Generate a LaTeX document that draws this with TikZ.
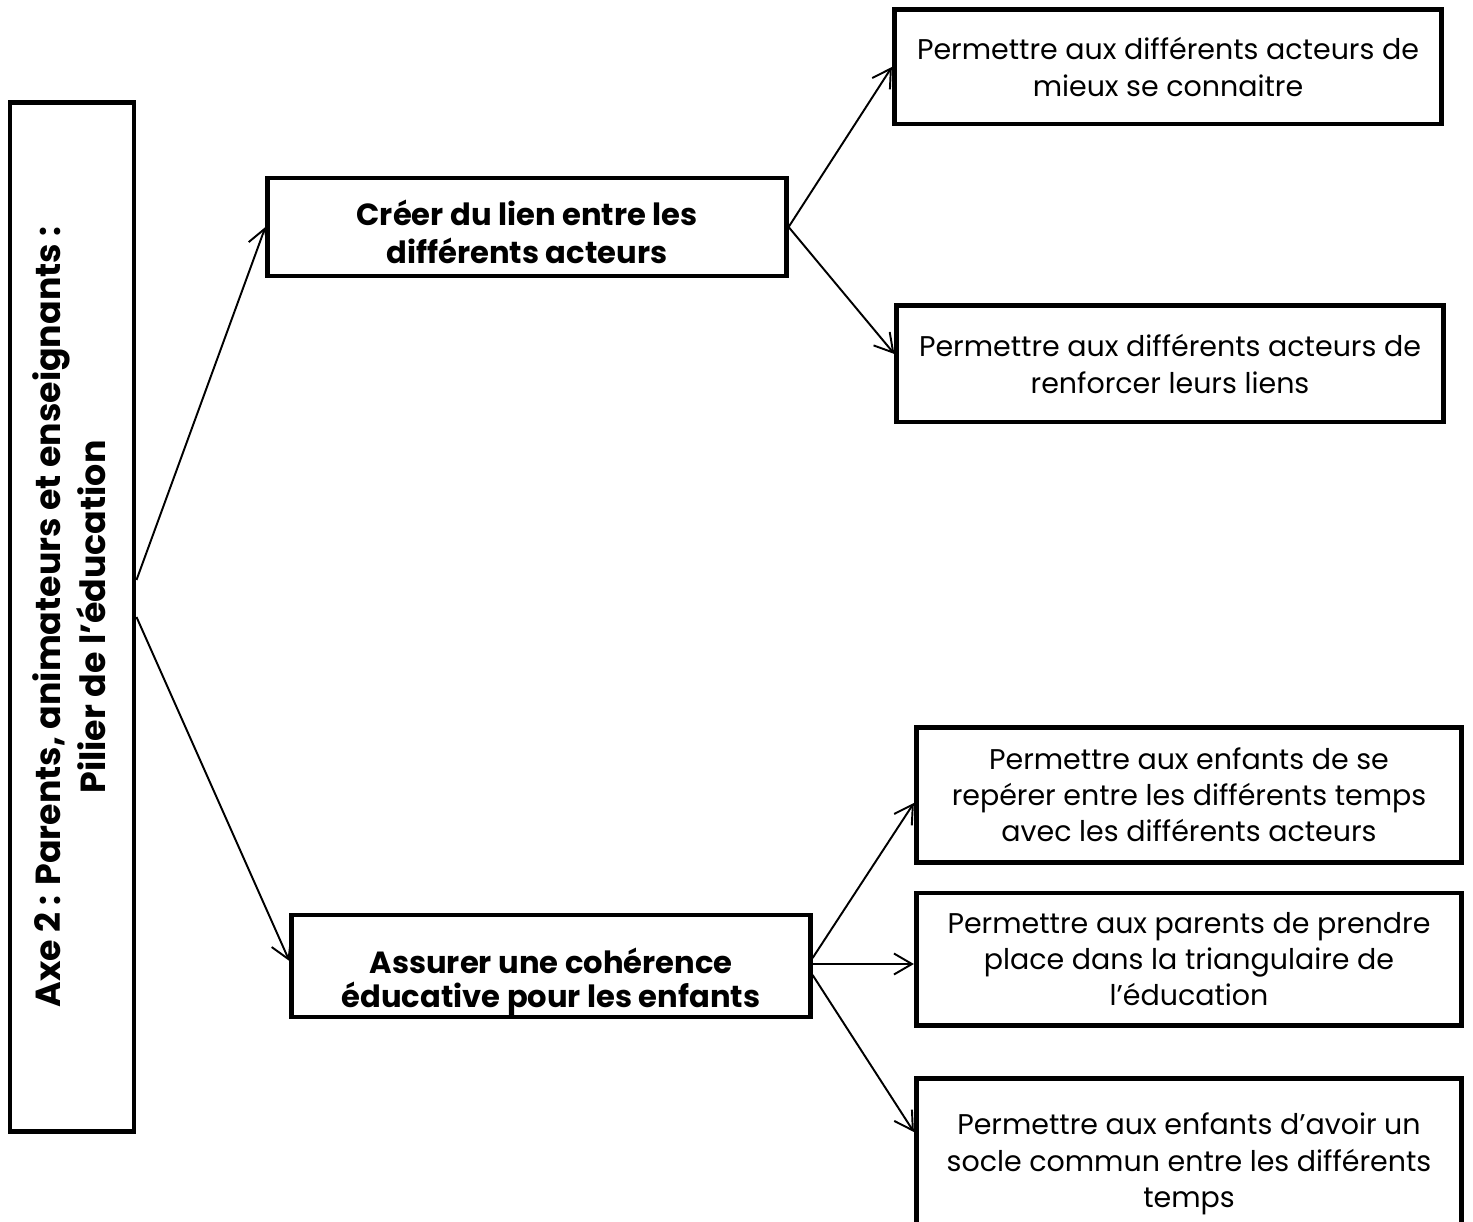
\documentclass[tikz,border=0pt]{standalone}
\usepackage{fontspec}
\setmainfont{Poppins}
\usetikzlibrary{arrows.meta}

\begin{document}
\begin{tikzpicture}[
    x=0.01cm, y=-0.01cm,
    box/.style={draw, line width=1.4pt, align=center, inner sep=0pt, font=\fontsize{8.1}{10.3}\selectfont},
    boldbox/.style={box, font=\fontsize{8.7}{10.6}\selectfont\bfseries},
    link/.style={-{Straight Barb[length=1.8mm,width=2.1mm]}, line width=0.55pt}
  ]
    \useasboundingbox (0,0) rectangle (1473,1222);

    % axe
    \node[box, minimum width=12.4mm, minimum height=102.9mm] (axe) at (72,617) {};
    \node[rotate=90, align=center, font=\fontsize{9.9}{12.8}\selectfont\bfseries] (axetxt) at ([xshift=-0.3mm]axe.center)
      {Axe 2 : Parents, animateurs et enseignants :\\ Pilier de l’éducation};

    % objectifs
    \node[box, minimum width=51.8mm, minimum height=9.8mm] (creer) at (527,227) {};
    \node[boldbox, draw=none] (creertxt) at ([yshift=-0.5mm]creer.center)
      {Créer du lien entre les\\ différents acteurs};
    \node[box, minimum width=51.8mm, minimum height=10.2mm] (assurer) at (551,966) {};
    \begin{scope}
      \clip (assurer.south west) rectangle (assurer.north east);
      \node[boldbox, draw=none, font=\fontsize{8.7}{9.8}\selectfont\bfseries] (assurertxt)
        at ([yshift=-1.6mm]assurer.center) {Assurer une cohérence\\ éducative pour les enfants};
    \end{scope}

    % sous-objectifs
    \node[box, minimum width=54.7mm, minimum height=11.4mm] (lien1) at (1168,67)
      {Permettre aux différents acteurs de\\ mieux se connaitre};
    \node[box, minimum width=54.6mm, minimum height=11.6mm] (lien2) at (1170,364)
      {Permettre aux différents acteurs de\\ renforcer leurs liens};
    \node[box, minimum width=54.5mm, minimum height=13.5mm] (ens1) at (1189,795)
      {Permettre aux enfants de se\\ repérer entre les différents temps\\ avec les différents acteurs};
    \node[box, minimum width=54.5mm, minimum height=13.2mm] (ens2) at (1189,959)
      {Permettre aux parents de prendre\\ place dans la triangulaire de\\ l’éducation};
    \node[box, minimum width=54.5mm, minimum height=17.1mm] (ens3) at (1189,1164)
      {Permettre aux enfants d’avoir un\\ socle commun entre les différents\\ temps};

    \draw[link] ([yshift=3.7mm]axe.east) -- (creer.west);
    \draw[link] (axe.east) -- ([yshift=0.5mm]assurer.west);

    \draw[link] (creer.east) -- (lien1.west);
    \draw[link] (creer.east) -- ([yshift=1mm]lien2.west);

    \draw[link] ([yshift=0.8mm]assurer.east) -- ([yshift=-0.8mm]ens1.west);
    \draw[link] ([yshift=0.2mm]assurer.east) -- ([yshift=0.2mm]assurer.east -| ens2.west);
    \draw[link] ([yshift=-0.9mm]assurer.east) -- ([yshift=3.2mm]ens3.west);
  \end{tikzpicture}
\end{document}
